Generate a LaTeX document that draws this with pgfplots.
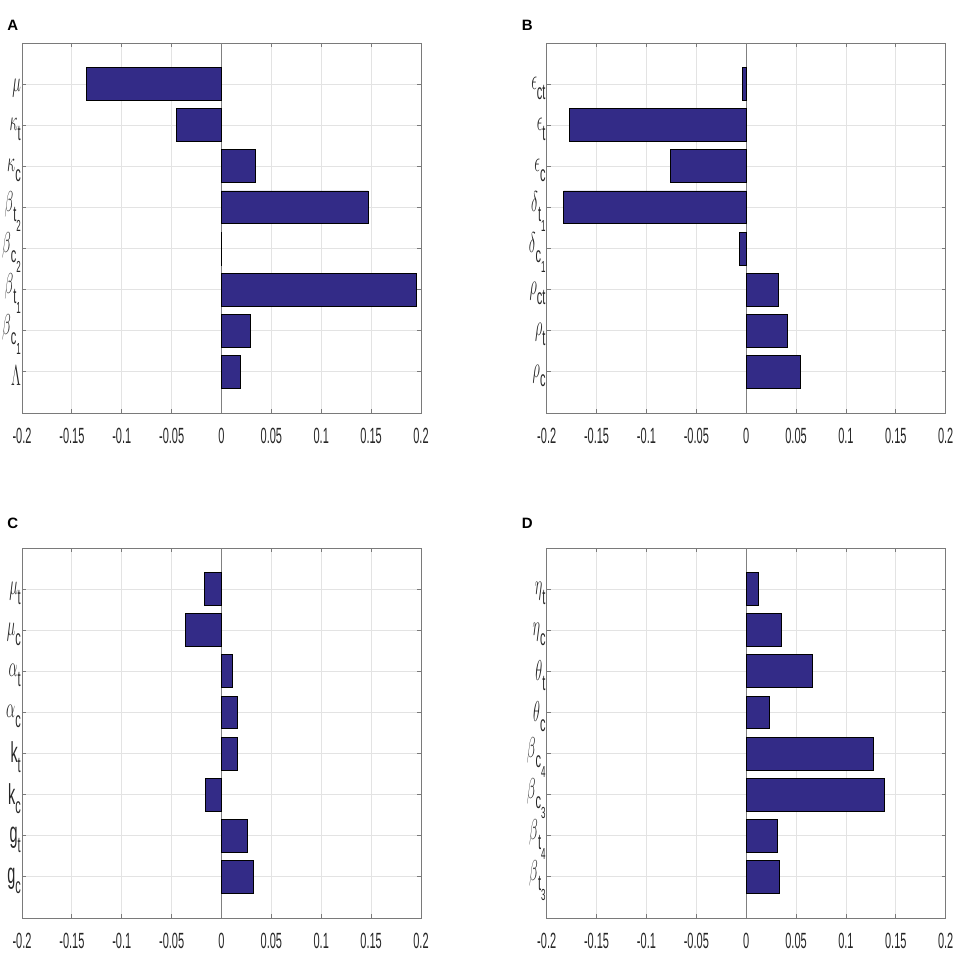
\documentclass[border=0pt]{standalone}
\usepackage{fontspec}
\setmainfont{Liberation Sans}
\usepackage{pgfplots}
\pgfplotsset{compat=1.18}
\definecolor{barblue}{HTML}{332B87}
\definecolor{gridc}{HTML}{E3E3E3}
\definecolor{boxc}{HTML}{7A7A7A}
\definecolor{txt}{HTML}{262626}
\newcommand{\G}[1]{{\fontsize{14.4}{16}\selectfont$#1$}}
\newcommand{\gs}[2]{\G{#1}\raisebox{-0.85ex}{#2}}
\newcommand{\gss}[3]{\G{#1}\raisebox{-0.85ex}{#2\raisebox{-0.9ex}{\fontsize{8}{9}\selectfont #3}}}
\pgfplotsset{
  panel/.style={
    anchor=south west,
    scale only axis,
    width=399pt, height=370pt,
    xmin=-0.2, xmax=0.2, ymin=0, ymax=9,
    xtick={-0.2,-0.15,-0.1,-0.05,0,0.05,0.1,0.15,0.2},
    xticklabels={-0.2,-0.15,-0.1,-0.05,0,0.05,0.1,0.15,0.2},
    ytick={1,2,3,4,5,6,7,8},
    xmajorgrids, ymajorgrids,
    major grid style={draw=gridc, line width=0.8pt},
    axis line style={draw=boxc, line width=0.9pt},
    major tick style={draw=boxc, line width=0.8pt},
    major tick length=4pt,
    tick align=inside,
    tick label style={font=\fontsize{11}{12}\selectfont, text=txt, yscale=2},
    xticklabel style={yshift=-4pt},
    yticklabel style={inner sep=1pt, yshift=-2pt},
    axis background/.style={fill=white},
  },
  bars/.style={xbar, bar width=0.8, fill=barblue, draw=black, line width=0.8pt},
}
\begin{document}
\begin{tikzpicture}
\useasboundingbox (0,0) rectangle (957pt,966pt);
% Panel A
\begin{axis}[panel, at={(22pt,553pt)},
  yticklabels={\G{\Lambda}, \gss{\beta}{c}{1}, \gss{\beta}{t}{1}, \gss{\beta}{c}{2}, \gss{\beta}{t}{2}, \gs{\kappa}{c}, \gs{\kappa}{t}, \G{\mu}}]
\addplot[draw=gray, line width=0.9pt, forget plot] coordinates {(0,0) (0,9)};
\addplot[bars] coordinates {(0.019,1) (0.029,2) (0.195,3) (0.0003,4) (0.147,5) (0.034,6) (-0.045,7) (-0.135,8)};
\end{axis}
% Panel B
\begin{axis}[panel, at={(546.7pt,553pt)},
  yticklabels={\gs{\rho}{c}, \gs{\rho}{t}, \gs{\rho}{ct}, \gss{\delta}{c}{1}, \gss{\delta}{t}{1}, \gs{\epsilon}{c}, \gs{\epsilon}{t}, \gs{\epsilon}{ct}}]
\addplot[draw=gray, line width=0.9pt, forget plot] coordinates {(0,0) (0,9)};
\addplot[bars] coordinates {(0.054,1) (0.0415,2) (0.0325,3) (-0.007,4) (-0.183,5) (-0.0755,6) (-0.1775,7) (-0.0037,8)};
\end{axis}
% Panel C
\begin{axis}[panel, at={(22pt,48pt)},
  yticklabels={\gs{\mathrm{g}}{c}, \gs{\mathrm{g}}{t}, \gs{\mathrm{k}}{c}, \gs{\mathrm{k}}{t}, \gs{\alpha}{c}, \gs{\alpha}{t}, \gs{\mu}{c}, \gs{\mu}{t}}]
\addplot[draw=gray, line width=0.9pt, forget plot] coordinates {(0,0) (0,9)};
\addplot[bars] coordinates {(0.0324,1) (0.0264,2) (-0.0157,3) (0.0155,4) (0.0158,5) (0.011,6) (-0.0358,7) (-0.0167,8)};
\end{axis}
% Panel D
\begin{axis}[panel, at={(546.7pt,48pt)},
  yticklabels={\gss{\beta}{t}{3}, \gss{\beta}{t}{4}, \gss{\beta}{c}{3}, \gss{\beta}{c}{4}, \gs{\theta}{c}, \gs{\theta}{t}, \gs{\eta}{c}, \gs{\eta}{t}}]
\addplot[draw=gray, line width=0.9pt, forget plot] coordinates {(0,0) (0,9)};
\addplot[bars] coordinates {(0.0331,1) (0.0315,2) (0.1389,3) (0.1275,4) (0.0231,5) (0.0663,6) (0.0351,7) (0.012,8)};
\end{axis}
% Panel letters
\node[font=\fontsize{15}{17}\selectfont\bfseries] at (12.7pt,941pt) {A};
\node[font=\fontsize{15}{17}\selectfont\bfseries] at (527.3pt,941pt) {B};
\node[font=\fontsize{15}{17}\selectfont\bfseries] at (12.7pt,442.7pt) {C};
\node[font=\fontsize{15}{17}\selectfont\bfseries] at (527.3pt,442.7pt) {D};
\end{tikzpicture}
\end{document}
